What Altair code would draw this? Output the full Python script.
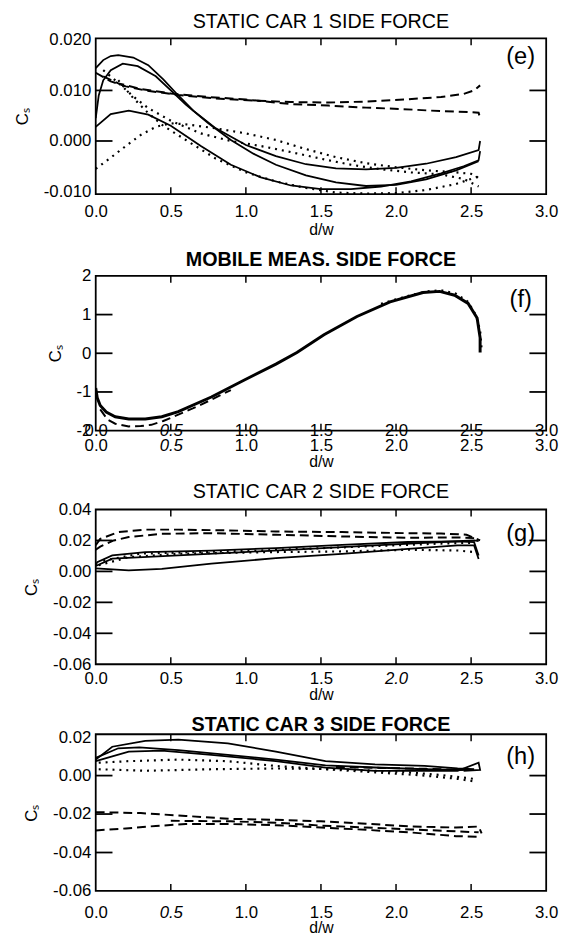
import altair as alt
import pandas as pd

FONT = "Liberation Sans"
W = 457

X_TICKS = [0.0, 0.5, 1.0, 1.5, 2.0, 2.5, 3.0]
X_INNER = [0.5, 1.0, 1.5, 2.0, 2.5]

# ---------------- panel (e) ----------------
E_TITLE = "STATIC CAR 1 SIDE FORCE"
E_Y_TICKS = [0.020, 0.010, 0.000, -0.010]
E_Y_INNER = [0.010, 0.000]
E_TAG = ("(e)", 2.83, 0.0166)
E_SOLID_A = [(0.00, 0.0144), (0.05, 0.0160), (0.10, 0.0168), (0.15, 0.0170), (0.25, 0.0165), (0.35, 0.0150),
             (0.45, 0.0122), (0.55, 0.0090), (0.65, 0.0060), (0.80, 0.0025), (1.00, -0.0008), (1.20, -0.0030),
             (1.40, -0.0046), (1.60, -0.0054), (1.80, -0.0056), (2.00, -0.0053), (2.20, -0.0045), (2.40, -0.0032),
             (2.55, -0.0018), (2.56, 0.0000)]
E_SOLID_B = [(0.00, 0.0045), (0.02, 0.0090), (0.05, 0.0120), (0.10, 0.0140), (0.18, 0.0153), (0.28, 0.0148),
             (0.40, 0.0128), (0.50, 0.0100), (0.60, 0.0072), (0.75, 0.0035), (0.90, 0.0002), (1.05, -0.0025),
             (1.20, -0.0047), (1.40, -0.0068), (1.60, -0.0082), (1.80, -0.0089), (2.00, -0.0087), (2.20, -0.0076),
             (2.40, -0.0058), (2.55, -0.0040)]
E_SOLID_C = [(0.00, 0.0028), (0.10, 0.0053), (0.22, 0.0060), (0.35, 0.0052), (0.50, 0.0030), (0.70, -0.0010),
             (0.90, -0.0047), (1.10, -0.0072), (1.30, -0.0088), (1.50, -0.0095), (1.70, -0.0095), (1.90, -0.0090),
             (2.10, -0.0080), (2.30, -0.0064), (2.45, -0.0050), (2.55, -0.0038), (2.56, -0.0020)]
E_DASH_A = [(0.00, 0.0135), (0.10, 0.0118), (0.20, 0.0108), (0.33, 0.0100), (0.55, 0.0091), (0.80, 0.0084),
            (1.05, 0.0080), (1.30, 0.0077), (1.55, 0.0076), (1.80, 0.0078), (2.05, 0.0082), (2.30, 0.0087),
            (2.45, 0.0093), (2.52, 0.0100), (2.56, 0.0110)]
E_DASH_B = [(0.05, 0.0128), (0.15, 0.0114), (0.30, 0.0103), (0.50, 0.0094), (0.75, 0.0087), (1.00, 0.0082),
            (1.30, 0.0073), (1.55, 0.0070), (1.80, 0.0066), (2.05, 0.0063), (2.30, 0.0059), (2.50, 0.0057),
            (2.55, 0.0056), (2.56, 0.0045)]
E_DOT_A = [(0.00, -0.0055), (0.10, -0.0033), (0.20, -0.0010), (0.30, 0.0012), (0.40, 0.0028), (0.50, 0.0035),
           (0.60, 0.0033), (0.80, 0.0025), (1.00, 0.0015), (1.20, 0.0002), (1.40, -0.0016), (1.60, -0.0032),
           (1.80, -0.0044), (2.00, -0.0052), (2.20, -0.0058), (2.40, -0.0062), (2.50, -0.0065), (2.55, -0.0073)]
E_DOT_B = [(0.05, 0.0140), (0.15, 0.0115), (0.25, 0.0088), (0.35, 0.0065), (0.50, 0.0040), (0.70, 0.0015),
           (0.90, 0.0000), (1.10, -0.0010), (1.30, -0.0022), (1.50, -0.0035), (1.70, -0.0047), (1.90, -0.0056),
           (2.10, -0.0062), (2.30, -0.0066), (2.45, -0.0075), (2.55, -0.0090)]
E_DOT_C = [(0.15, 0.0120), (0.25, 0.0085), (0.35, 0.0055), (0.45, 0.0030), (0.60, 0.0002), (0.80, -0.0035),
           (1.00, -0.0062), (1.20, -0.0080), (1.40, -0.0093), (1.60, -0.0102), (1.80, -0.0104), (2.00, -0.0103),
           (2.20, -0.0097), (2.40, -0.0085), (2.55, -0.0070)]

# ---------------- panel (f) ----------------
F_TITLE = "MOBILE MEAS. SIDE FORCE"
F_Y_TICKS = [2, 1, 0, -1, -2]
F_Y_INNER = [1, 0, -1]
F_TAG = ("(f)", 2.83, 1.37)
F_SOLID = [(0.00, -0.90), (0.01, -1.15), (0.03, -1.35), (0.07, -1.52), (0.13, -1.64), (0.22, -1.70), (0.33, -1.70),
           (0.44, -1.64), (0.55, -1.51), (0.77, -1.13), (0.99, -0.69), (1.20, -0.28), (1.34, 0.02), (1.52, 0.48),
           (1.74, 0.95), (1.96, 1.33), (2.18, 1.57), (2.29, 1.60), (2.39, 1.50), (2.48, 1.29), (2.54, 0.91),
           (2.56, 0.40), (2.56, 0.02)]
F_DASH = [(0.03, -1.45), (0.08, -1.72), (0.13, -1.82), (0.22, -1.89), (0.30, -1.88), (0.37, -1.85), (0.45, -1.75),
          (0.53, -1.62), (0.65, -1.42), (0.77, -1.20), (0.90, -0.95)]
F_DOT = [(1.90, 1.28), (2.05, 1.45), (2.20, 1.60), (2.30, 1.63), (2.40, 1.54), (2.48, 1.33), (2.53, 1.00),
         (2.56, 0.60), (2.57, 0.10)]

# ---------------- panel (g) ----------------
G_TITLE = "STATIC CAR 2 SIDE FORCE"
G_Y_TICKS = [0.04, 0.02, 0.00, -0.02, -0.04, -0.06]
G_Y_INNER = [0.02, 0.00, -0.02, -0.04]
G_TAG = ("(g)", 2.83, 0.024)
G_DASH_A = [(0.00, 0.0170), (0.03, 0.0210), (0.15, 0.0254), (0.33, 0.0270), (0.55, 0.0270), (0.88, 0.0265),
            (1.20, 0.0258), (1.64, 0.0254), (2.08, 0.0247), (2.30, 0.0245), (2.47, 0.0237), (2.56, 0.0200)]
G_DASH_B = [(0.00, 0.0140), (0.03, 0.0160), (0.12, 0.0200), (0.22, 0.0222), (0.44, 0.0243), (0.77, 0.0247),
            (1.20, 0.0237), (1.64, 0.0226), (2.08, 0.0217), (2.41, 0.0220), (2.52, 0.0215)]
G_SOLID_A = [(0.00, 0.0040), (0.01, 0.0060), (0.11, 0.0103), (0.33, 0.0125), (0.77, 0.0135), (1.20, 0.0150),
             (1.64, 0.0172), (2.08, 0.0190), (2.41, 0.0194), (2.52, 0.0189), (2.55, 0.0103)]
G_SOLID_B = [(0.00, 0.0035), (0.11, 0.0082), (0.55, 0.0103), (0.99, 0.0125), (1.42, 0.0146), (1.86, 0.0168),
             (2.30, 0.0190), (2.52, 0.0200), (2.55, 0.0195)]
G_SOLID_C = [(0.00, 0.0020), (0.22, 0.0006), (0.44, 0.0017), (0.77, 0.0050), (1.20, 0.0086), (1.64, 0.0114),
             (2.08, 0.0146), (2.41, 0.0168), (2.52, 0.0168), (2.55, 0.0080)]
G_DOT_A = [(0.02, 0.0040), (0.22, 0.0092), (0.55, 0.0114), (1.20, 0.0125), (1.64, 0.0129), (2.08, 0.0140),
           (2.41, 0.0135), (2.52, 0.0125)]
G_DOT_B = [(0.05, 0.0070), (0.30, 0.0115), (0.70, 0.0125), (1.10, 0.0135), (1.50, 0.0150), (1.90, 0.0165),
           (2.30, 0.0180), (2.50, 0.0185)]

# ---------------- panel (h) ----------------
H_TITLE = "STATIC CAR 3 SIDE FORCE"
H_Y_TICKS = [0.02, 0.00, -0.02, -0.04, -0.06]
H_Y_INNER = [0.00, -0.02, -0.04]
H_TAG = ("(h)", 2.83, 0.0095)
H_SOLID_A = [(0.00, 0.0083), (0.11, 0.0150), (0.33, 0.0180), (0.55, 0.0187), (0.88, 0.0167), (1.20, 0.0125),
             (1.53, 0.0075), (1.86, 0.0058), (2.19, 0.0050), (2.41, 0.0037), (2.52, 0.0033)]
H_SOLID_B = [(0.00, 0.0092), (0.15, 0.0142), (0.29, 0.0147), (0.55, 0.0133), (0.88, 0.0108), (1.20, 0.0083),
             (1.53, 0.0053), (1.86, 0.0042), (2.19, 0.0033), (2.41, 0.0030), (2.52, 0.0030)]
H_SOLID_C = [(0.00, 0.0075), (0.22, 0.0125), (0.44, 0.0130), (0.77, 0.0108), (1.20, 0.0075), (1.53, 0.0042),
             (1.86, 0.0025), (2.19, 0.0025), (2.41, 0.0025), (2.55, 0.0067), (2.56, 0.0030), (2.45, 0.0025)]
H_DOT_A = [(0.02, 0.0067), (0.22, 0.0075), (0.55, 0.0083), (0.88, 0.0075), (1.20, 0.0050), (1.53, 0.0033),
           (1.86, 0.0017), (2.19, 0.0000), (2.41, -0.0017), (2.52, -0.0030)]
H_DOT_B = [(0.02, 0.0033), (0.33, 0.0025), (0.77, 0.0033), (1.20, 0.0037), (1.64, 0.0033), (2.08, 0.0017),
           (2.30, 0.0003), (2.52, -0.0017)]
H_DASH_D = [(1.60, 0.0045), (1.90, 0.0040), (2.20, 0.0035), (2.45, 0.0030)]
H_DASH_A = [(0.00, -0.0190), (0.30, -0.0195), (0.60, -0.0210), (0.90, -0.0225), (1.20, -0.0230), (1.50, -0.0238),
            (1.80, -0.0250), (2.10, -0.0265), (2.40, -0.0270), (2.55, -0.0265), (2.57, -0.0300)]
H_DASH_B = [(0.50, -0.0235), (0.90, -0.0238), (1.20, -0.0245), (1.50, -0.0260), (1.80, -0.0270), (2.10, -0.0280),
            (2.40, -0.0290), (2.55, -0.0295)]
H_DASH_C = [(0.00, -0.0285), (0.20, -0.0275), (0.40, -0.0262), (0.60, -0.0252), (0.90, -0.0252), (1.20, -0.0258),
            (1.50, -0.0270), (1.80, -0.0282), (2.10, -0.0296), (2.40, -0.0315), (2.55, -0.0318)]


def curves_df(curves):
    rows = []
    for name, style, pts in curves:
        for i, (x, y) in enumerate(pts):
            rows.append(dict(curve=name, style=style, i=i, x=x, y=y))
    return pd.DataFrame(rows)


def hyphen(fmt):
    return f"replace(format(datum.value, '{fmt}'), '\u2212', '-')"


def panel(title, bold, curves, y_domain, y_ticks, y_inner, y_fmt, height, tag,
          title_offset, x_label_pad, x_title_y, italic_value=None, dup_axis=False, solid_width=1.8):
    ymin, ymax = y_domain
    styles = {
        "solid": dict(strokeWidth=solid_width),
        "dash": dict(strokeWidth=2.0, strokeDash=[9, 5]),
        "dot": dict(strokeWidth=2.2, strokeDash=[2, 5]),
    }
    xs = alt.Scale(domain=[0, 3], nice=False, zero=False)
    ys = alt.Scale(domain=[ymin, ymax], nice=False, zero=False)
    style_font = {"condition": {"test": f"datum.value == {italic_value}", "value": "italic"},
                  "value": "normal"} if italic_value is not None else "normal"
    x_axis = alt.Axis(values=X_TICKS, format=".1f", title="d/w", orient="bottom", labelFontSize=17,
                      titleFontSize=16, titleFontWeight="normal", labelPadding=x_label_pad,
                      titleY=x_title_y, ticks=False, domain=False, grid=False, labelFont=FONT,
                      titleFont=FONT, labelColor="black", titleColor="black", labelFlush=False,
                      labelOverlap=False, labelFontStyle=style_font)
    y_axis = alt.Axis(values=y_ticks, labelExpr=hyphen(y_fmt), title="Cₛ", orient="left", labelFontSize=17,
                      titleFontSize=17, titleFontWeight="normal", labelPadding=5, titlePadding=12, ticks=False,
                      domain=False, grid=False, labelFont=FONT, titleFont=FONT, labelColor="black",
                      titleColor="black", labelFlush=False, labelOverlap=False)
    df = curves_df(curves)
    layers = []
    first = True
    for style, kw in styles.items():
        sub = df[df["style"] == style]
        if sub.empty:
            continue
        layers.append(
            alt.Chart(sub).mark_line(color="black", clip=True, **kw).encode(
                x=alt.X("x:Q", scale=xs, axis=x_axis if first else None),
                y=alt.Y("y:Q", scale=ys, axis=y_axis if first else None),
                detail="curve:N",
                order="i:Q",
            )
        )
        first = False

    # inward ticks on the four sides of the frame
    ylen = 17 / W * 3
    xlen = 7 / height * (ymax - ymin)
    yt = pd.DataFrame(
        [dict(x=0.0, x2=ylen, y=v) for v in y_inner] + [dict(x=3.0 - ylen, x2=3.0, y=v) for v in y_inner])
    xt = pd.DataFrame(
        [dict(x=v, y=ymax, y2=ymax - xlen) for v in X_INNER] + [dict(x=v, y=ymin, y2=ymin + xlen) for v in X_INNER])
    layers.append(alt.Chart(yt).mark_rule(color="black", strokeWidth=1.8).encode(
        x=alt.X("x:Q", scale=xs, axis=None), x2="x2:Q", y=alt.Y("y:Q", scale=ys, axis=None)))
    dup = None
    if dup_axis:
        dup = alt.Axis(values=X_TICKS, format=".1f", title=None, orient="bottom", offset=-8, labelPadding=0,
                       labelFontSize=17, ticks=False, domain=False, grid=False, labelFont=FONT, labelColor="black",
                       labelFlush=False, labelOverlap=False, labelFontStyle=style_font)
    layers.append(alt.Chart(xt).mark_rule(color="black", strokeWidth=1.5).encode(
        x=alt.X("x:Q", scale=xs, axis=dup), y=alt.Y("y:Q", scale=ys, axis=None), y2="y2:Q"))

    tg = pd.DataFrame([dict(text=tag[0], x=tag[1], y=tag[2])])
    layers.append(alt.Chart(tg).mark_text(fontSize=24, font=FONT, color="black").encode(
        x=alt.X("x:Q", scale=xs, axis=None), y=alt.Y("y:Q", scale=ys, axis=None), text="text:N"))

    ch = alt.layer(*layers).properties(
        width=W, height=height,
        title=alt.TitleParams(text=title, fontSize=20, font=FONT, fontWeight="bold" if bold else "normal",
                              color="black", anchor="middle", offset=title_offset),
    ).resolve_axis(x="independent", y="independent")
    return ch


pe = panel(E_TITLE, False,
           [("a", "solid", E_SOLID_A), ("b", "solid", E_SOLID_B), ("c", "solid", E_SOLID_C),
            ("d", "dash", E_DASH_A), ("e", "dash", E_DASH_B),
            ("f", "dot", E_DOT_A), ("g", "dot", E_DOT_B), ("h", "dot", E_DOT_C)],
           (-0.0105, 0.0203), E_Y_TICKS, E_Y_INNER, ".3f", 158, E_TAG, -1, 10, 28)
pf = panel(F_TITLE, True,
           [("a", "solid", F_SOLID), ("b", "dash", F_DASH), ("c", "dot", F_DOT)],
           (-2.0, 2.0), F_Y_TICKS, F_Y_INNER, "d", 157, F_TAG, -3, 7, 23, italic_value=0.5, dup_axis=True,
           solid_width=3.0)
pg = panel(G_TITLE, False,
           [("a", "solid", G_SOLID_A), ("b", "solid", G_SOLID_B), ("c", "solid", G_SOLID_C),
            ("d", "dash", G_DASH_A), ("e", "dash", G_DASH_B),
            ("f", "dot", G_DOT_A), ("g", "dot", G_DOT_B)],
           (-0.06, 0.04), G_Y_TICKS, G_Y_INNER, ".2f", 157, G_TAG, -1, 7, 23, italic_value=2)
ph = panel(H_TITLE, True,
           [("a", "solid", H_SOLID_A), ("b", "solid", H_SOLID_B), ("c", "solid", H_SOLID_C),
            ("d", "dash", H_DASH_A), ("e", "dash", H_DASH_B), ("f", "dash", H_DASH_C), ("k", "dash", H_DASH_D),
            ("g", "dot", H_DOT_A), ("h", "dot", H_DOT_B)],
           (-0.06, 0.0215), H_Y_TICKS, H_Y_INNER, ".2f", 159, H_TAG, -7, 14, 29, italic_value=0.5)

chart = alt.vconcat(pe, pf, pg, ph, spacing=11).properties(
    padding={"left": 4, "top": -4, "right": 0, "bottom": 0},
    background="white",
).configure_view(stroke="black", strokeWidth=1.8)

chart.save("out.html", embed_options={"renderer": "svg", "actions": False})
